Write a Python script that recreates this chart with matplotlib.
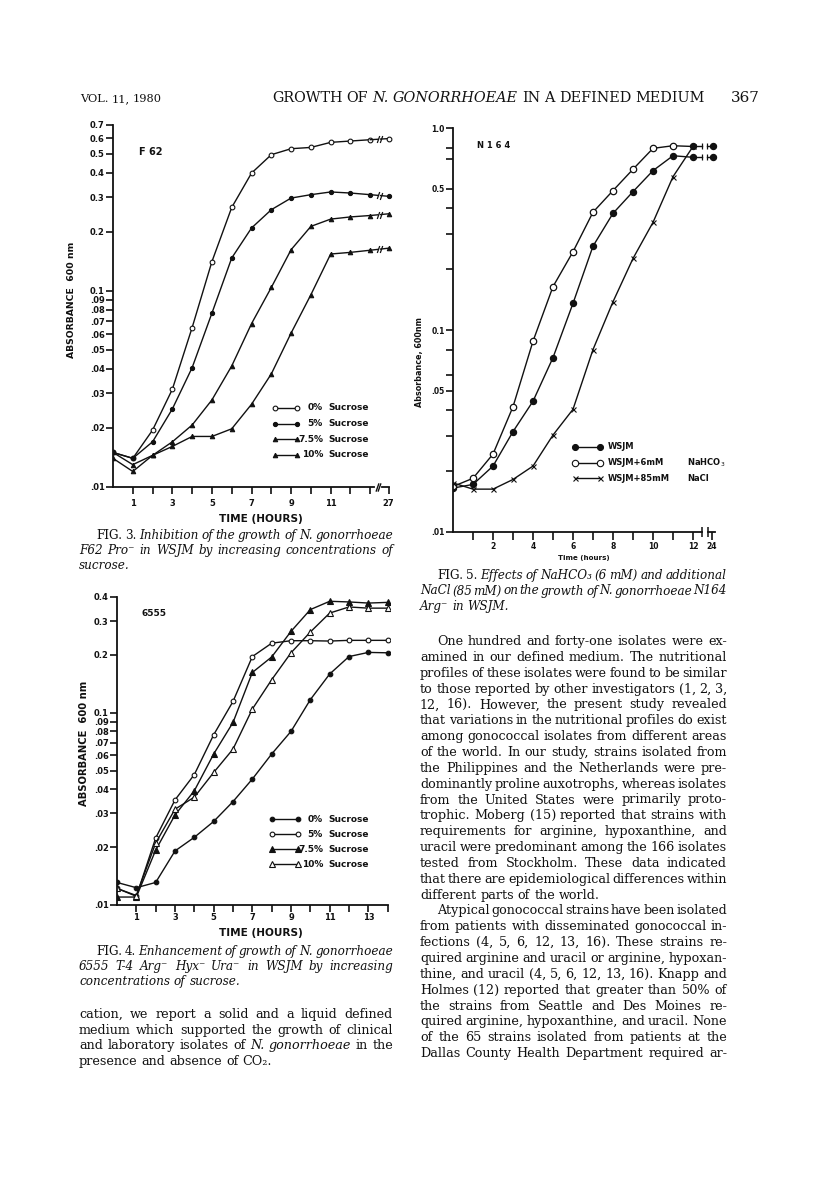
import matplotlib
matplotlib.use("Agg")
import matplotlib.pyplot as plt
from matplotlib.lines import Line2D
from matplotlib.ticker import NullLocator

# ---- Fig. 3: F62, absorbance at 600 nm vs time (h), last point at 27 h
f3_hours = [0, 1, 2, 3, 4, 5, 6, 7, 8, 9, 10, 11, 12, 13, 27]
f3_suc0 = [0.015, 0.014, 0.0195, 0.0315, 0.065, 0.141, 0.266, 0.398, 0.494, 0.53, 0.538, 0.571, 0.58, 0.589, 0.597]
f3_suc5 = [0.015, 0.014, 0.017, 0.025, 0.0406, 0.077, 0.147, 0.209, 0.259, 0.297, 0.309, 0.319, 0.315, 0.309, 0.303]
f3_suc75 = [0.014, 0.012, 0.0145, 0.017, 0.0207, 0.0278, 0.0414, 0.068, 0.104, 0.162, 0.213, 0.232, 0.238, 0.242, 0.247]
f3_suc10 = [0.015, 0.013, 0.0145, 0.0161, 0.0181, 0.0181, 0.0198, 0.0264, 0.0377, 0.0609, 0.0955, 0.154, 0.157, 0.161, 0.165]
f3_yticks = [0.7, 0.6, 0.5, 0.4, 0.3, 0.2, 0.1, 0.09, 0.08, 0.07, 0.06, 0.05, 0.04, 0.03, 0.02, 0.01]
f3_ylabels = ["0.7", "0.6", "0.5", "0.4", "0.3", "0.2", "0.1", ".09", ".08", ".07", ".06", ".05", ".04", ".03", ".02", ".01"]

# ---- Fig. 4: 6555, hours 0..14
f4_hours = [0, 1, 2, 3, 4, 5, 6, 7, 8, 9, 10, 11, 12, 13, 14]
f4_suc0 = [0.0131, 0.0123, 0.0131, 0.0191, 0.0225, 0.0272, 0.0345, 0.0452, 0.061, 0.080, 0.117, 0.159, 0.196, 0.206, 0.205]
f4_suc5 = [0.0122, 0.0111, 0.0223, 0.0352, 0.0477, 0.0768, 0.1145, 0.196, 0.230, 0.237, 0.237, 0.236, 0.238, 0.238, 0.238]
f4_suc75 = [0.0110, 0.0110, 0.0193, 0.0294, 0.0393, 0.061, 0.089, 0.162, 0.195, 0.265, 0.344, 0.38, 0.377, 0.372, 0.375]
f4_suc10 = [0.0122, 0.0112, 0.021, 0.0315, 0.0364, 0.0489, 0.0647, 0.1045, 0.1485, 0.205, 0.263, 0.330, 0.355, 0.35, 0.35]
f4_yticks = [0.4, 0.3, 0.2, 0.1, 0.09, 0.08, 0.07, 0.06, 0.05, 0.04, 0.03, 0.02, 0.01]
f4_ylabels = ["0.4", "0.3", "0.2", "0.1", ".09", ".08", ".07", ".06", ".05", ".04", ".03", ".02", ".01"]

# ---- Fig. 5: N164, hours 0..12 and 24
f5_hours = [0, 1, 2, 3, 4, 5, 6, 7, 8, 9, 10, 11, 12, 24]
f5_wsjm = [0.0165, 0.0172, 0.0212, 0.0314, 0.0444, 0.073, 0.1355, 0.26, 0.378, 0.484, 0.615, 0.729, 0.716, 0.716]
f5_nahco3 = [0.0168, 0.01845, 0.0243, 0.0417, 0.088, 0.164, 0.244, 0.383, 0.49, 0.625, 0.793, 0.817, 0.81, 0.81]
f5_nacl_hours = [0, 1, 2, 3, 4, 5, 6, 7, 8, 9, 10, 11, 12]
f5_nacl = [0.0175, 0.0163, 0.0163, 0.0182, 0.0212, 0.0302, 0.0405, 0.08, 0.138, 0.226, 0.341, 0.574, 0.81]
f5_yticks = [1.0, 0.8, 0.7, 0.5, 0.4, 0.3, 0.2, 0.1, 0.08, 0.06, 0.05, 0.04, 0.03, 0.02, 0.01]
f5_ylabels = ["1.0", "", "", "0.5", "", "", "", "0.1", "", "", ".05", "", "", "", ".01"]

W, H = 816, 1196
INK = "#111111"
SANS = "DejaVu Sans"
SERIF = "DejaVu Serif"
LW = 1.0

fig = plt.figure(figsize=(W / 100, H / 100), dpi=100)
fig.patch.set_facecolor("white")
renderer = fig.canvas.get_renderer()


def box(x0, y0, x1, y1):
    return [x0 / W, 1 - y1 / H, (x1 - x0) / W, (y1 - y0) / H]


def put(x, y, s, **kw):
    kw.setdefault("color", INK)
    return fig.text(x / W, 1 - y / H, s, **kw)


def width_of(s, **kw):
    t = fig.text(0, 0, s, **kw)
    w = t.get_window_extent(renderer).width
    t.remove()
    return w


def fit(x0, x1, y, s, **kw):
    size = 10 * (x1 - x0) / width_of(s, fontsize=10, **kw)
    return put((x0 + x1) / 2, y, s, fontsize=size, ha="center", va="center", **kw)


def fit_vertical(x, y0, y1, s, **kw):
    size = 10 * (y1 - y0) / width_of(s, fontsize=10, **kw)
    return put(x, (y0 + y1) / 2, s, fontsize=size, rotation=90, ha="center", va="center", **kw)


def words_of(line, base):
    out = []
    for w in line.split():
        st = base
        if len(w) > 2 and w[0] == "*" and w[-1] == "*":
            w = w[1:-1]
            st = "normal" if base == "italic" else "italic"
        out.append((w, st))
    return out


def block_size(lines, width, base="normal", indent=0, min_space=0.12):
    best = 30
    for i, line in enumerate(lines):
        words = words_of(line, base)
        tot = sum(width_of(w, fontsize=10, family=SERIF, fontstyle=st) for w, st in words)
        tot += (len(words) - 1) * min_space * 10 * 100 / 72
        avail = width - (indent if i == 0 else 0)
        best = min(best, 10 * avail / tot)
    return best


def block(lines, x0, x1, y0, dy, size, base="normal", indent=0, ragged_last=True):
    space = 0.318 * size * 100 / 72
    for i, line in enumerate(lines):
        words = words_of(line, base)
        left = x0 + (indent if i == 0 else 0)
        ws = [width_of(w, fontsize=size, family=SERIF, fontstyle=st) for w, st in words]
        if (ragged_last and i == len(lines) - 1) or len(words) < 2:
            gap = space
        else:
            gap = (x1 - left - sum(ws)) / (len(words) - 1)
        x = left
        for (w, st), wd in zip(words, ws):
            put(x, y0 + i * dy, w, fontsize=size, family=SERIF, fontstyle=st, ha="left", va="baseline")
            x += wd + gap


def style_axes(ax, yticks, ylabels, ysize):
    for s in ["top", "right"]:
        ax.spines[s].set_visible(False)
    for s in ["left", "bottom"]:
        ax.spines[s].set_linewidth(1.3)
        ax.spines[s].set_color(INK)
    ax.set_yscale("log")
    ax.set_yticks(yticks)
    ax.set_yticklabels(ylabels, fontweight="bold", family=SANS, fontsize=ysize, color=INK)
    ax.yaxis.set_minor_locator(NullLocator())
    ax.tick_params(axis="y", direction="out", length=5, width=1.2, pad=1, colors=INK)
    ax.patch.set_alpha(0)


SLASH = [(-0.35, -1), (0.35, 1)]


def tail(ax, p0, v0, p1, v1, g0, g1, mark, ms):
    f = lambda p: v0 * (v1 / v0) ** ((p - p0) / (p1 - p0))
    ax.plot([p0, g0], [v0, f(g0)], color=INK, lw=LW)
    ax.plot([g1, p1], [f(g1), v1], color=INK, lw=LW)
    ax.plot([g0, g1], [f(g0), f(g1)], ls="none", marker=mark, ms=ms, mec=INK, mfc=INK, mew=0.9)


def legend_row(x0, x1, y, marker, mfc, ms):
    fig.add_artist(Line2D([x0 / W, x1 / W], [1 - y / H] * 2, transform=fig.transFigure,
                          color=INK, lw=LW, marker=marker, mfc=mfc, mec=INK, ms=ms, mew=0.8))


# ================= Fig. 3 =================
ax3 = fig.add_axes(box(113, 125, 394, 487))
ax3.set_xlim(0, 14.2)
ax3.set_ylim(0.01, 0.7)
style_axes(ax3, f3_yticks, f3_ylabels, 6)
pos3 = [h if h <= 13 else 13.95 for h in f3_hours]
f3_series = [(f3_suc0, "o", "white", 3.4), (f3_suc5, "o", INK, 3.0),
             (f3_suc75, "^", INK, 3.2), (f3_suc10, "^", INK, 3.2)]
for vals, m, mfc, ms in f3_series:
    ax3.plot(pos3[:14], vals[:14], color=INK, lw=LW, marker=m, mfc=mfc, mec=INK, ms=ms, mew=0.8)
    tail(ax3, pos3[13], vals[13], pos3[14], vals[14], 13.38, 13.52, SLASH, 5)
    ax3.plot(pos3[14:], vals[14:], ls="none", marker=m, mfc=mfc, mec=INK, ms=ms, mew=0.8)
ax3.set_xticks(list(range(1, 14)) + [13.93])
ax3.set_xticklabels(["1", "", "3", "", "5", "", "7", "", "9", "", "11", "", "", "27"],
                    fontweight="bold", family=SANS, fontsize=6, color=INK)
ax3.tick_params(axis="x", direction="out", length=5, width=1.2, pad=3.5, colors=INK)
ax3.spines["bottom"].set_bounds(0, 13.2)
xt3 = ax3.get_xaxis_transform()
ax3.plot([13.6, 13.95], [0, 0], transform=xt3, color=INK, lw=1.3, clip_on=False)
ax3.plot([13.33, 13.45], [0, 0], transform=xt3, ls="none", marker=SLASH, ms=6,
         mec=INK, mew=1.0, clip_on=False)

fit_vertical(72, 241, 358, "ABSORBANCE  600 nm", fontweight="bold", family=SANS)
fit(219, 303, 519, "TIME (HOURS)", fontweight="bold", family=SANS)
put(139, 152, "F 62", fontsize=7, fontweight="bold", family=SANS, va="center")
legend3 = [("0%", "o", "white", 3.4), ("5%", "o", INK, 3.0), ("7.5%", "^", INK, 3.2), ("10%", "^", INK, 3.2)]
for i, (lab, m, mfc, ms) in enumerate(legend3):
    y = 408 + i * 15.6
    legend_row(275, 297, y, m, mfc, ms)
    put(323, y, lab, fontsize=6.5, fontweight="bold", family=SANS, ha="right", va="center")
    put(328, y, "Sucrose", fontsize=6.5, fontweight="bold", family=SANS, ha="left", va="center")

# ================= Fig. 4 =================
ax4 = fig.add_axes(box(117, 597, 390, 905))
ax4.set_xlim(0, 14.12)
ax4.set_ylim(0.01, 0.4)
style_axes(ax4, f4_yticks, f4_ylabels, 6)
f4_series = [(f4_suc0, "o", INK, 3.3), (f4_suc5, "o", "white", 3.4),
             (f4_suc75, "^", INK, 4.4), (f4_suc10, "^", "white", 4.4)]
for vals, m, mfc, ms in f4_series:
    ax4.plot(f4_hours, vals, color=INK, lw=LW, marker=m, mfc=mfc, mec=INK, ms=ms, mew=0.8)
ax4.set_xticks(list(range(1, 15)))
ax4.set_xticklabels(["1", "", "3", "", "5", "", "7", "", "9", "", "11", "", "13", ""],
                    fontweight="bold", family=SANS, fontsize=6, color=INK)
ax4.tick_params(axis="x", direction="out", length=5, width=1.2, pad=1, colors=INK)
ax4.spines["bottom"].set_bounds(0, 14)

fit_vertical(84, 680, 806, "ABSORBANCE  600 nm", fontweight="bold", family=SANS)
fit(219, 303, 933, "TIME (HOURS)", fontweight="bold", family=SANS)
put(142, 613, "6555", fontsize=6.5, fontweight="bold", family=SANS, va="center")
legend4 = [("0%", "o", INK, 3.3), ("5%", "o", "white", 3.4), ("7.5%", "^", INK, 4.4), ("10%", "^", "white", 4.4)]
for i, (lab, m, mfc, ms) in enumerate(legend4):
    y = 819 + i * 15.1
    legend_row(272, 298, y, m, mfc, ms)
    put(323, y, lab, fontsize=6.5, fontweight="bold", family=SANS, ha="right", va="center")
    put(328, y, "Sucrose", fontsize=6.5, fontweight="bold", family=SANS, ha="left", va="center")

# ================= Fig. 5 =================
ax5 = fig.add_axes(box(453, 128, 720, 532))
ax5.set_xlim(0, 13.35)
ax5.set_ylim(0.01, 1.0)
style_axes(ax5, f5_yticks, f5_ylabels, 5.5)
pos5 = [h if h <= 12 else 13.0 for h in f5_hours]
BAR = "|"
# WSJM
ax5.plot(pos5[:13], f5_wsjm[:13], color=INK, lw=LW, marker="o", mfc=INK, mec=INK, ms=4.3)
tail(ax5, pos5[12], f5_wsjm[12], pos5[13], f5_wsjm[13], 12.45, 12.72, BAR, 5)
ax5.plot(pos5[13:], f5_wsjm[13:], ls="none", marker="o", mfc=INK, mec=INK, ms=4.3)
# WSJM + NaHCO3
ax5.plot(pos5[:13], f5_nahco3[:13], color=INK, lw=LW)
ax5.plot(pos5[:12], f5_nahco3[:12], ls="none", marker="o", mfc="white", mec=INK, ms=4.6, mew=0.9)
tail(ax5, pos5[12], f5_nahco3[12], pos5[13], f5_nahco3[13], 12.45, 12.72, BAR, 5)
ax5.plot(pos5[12:], f5_nahco3[12:], ls="none", marker="o", mfc=INK, mec=INK, ms=4.3)
# WSJM + NaCl
ax5.plot(f5_nacl_hours, f5_nacl, color=INK, lw=LW, marker="x", ms=3.6, mew=0.8, mec=INK)

ax5.set_xticks(list(range(1, 13)) + [12.95])
ax5.set_xticklabels(["", "2", "", "4", "", "6", "", "8", "", "10", "", "12", "24"],
                    fontweight="bold", family=SANS, fontsize=5.5, color=INK)
ax5.tick_params(axis="x", direction="out", length=6, width=1.2, pad=1, colors=INK)
ax5.spines["bottom"].set_bounds(0, 12.45)
xt5 = ax5.get_xaxis_transform()
ax5.plot([12.75, 13.1], [0, 0], transform=xt5, color=INK, lw=1.3, clip_on=False)
ax5.plot([12.45, 12.75], [0, 0], transform=xt5, ls="none", marker="|", ms=7,
         mec=INK, mew=1.1, clip_on=False)

fit_vertical(420, 318, 407, "Absorbance, 600nm", fontweight="bold", family=SANS)
fit(558, 610, 558, "Time (hours)", fontweight="bold", family=SANS)
put(477, 145, "N 1 6 4", fontsize=6, fontweight="bold", family=SANS, va="center")
legend5 = [("o", INK, 4.3, "WSJM", ""), ("o", "white", 4.6, "WSJM+6mM", "NaHCO$_3$"),
           ("x", INK, 3.6, "WSJM+85mM", "NaCl")]
for i, (m, mfc, ms, lab, salt) in enumerate(legend5):
    y = 447 + i * 15.5
    legend_row(575, 600, y, m, mfc, ms)
    put(608, y, lab, fontsize=6, fontweight="bold", family=SANS, ha="left", va="center")
    if salt:
        put(687, y, salt, fontsize=6, fontweight="bold", family=SANS, ha="left", va="center")

# ================= page text =================
header = ["GROWTH OF *N.* *GONORRHOEAE* IN A DEFINED MEDIUM"]
hs = block_size(header, 705 - 272, min_space=0.3)
block(header, 272, 705, 102, 0, hs, ragged_last=False)
vol = ["VOL. 11, 1980"]
block(vol, 80, 162, 102, 0, block_size(vol, 82, min_space=0.3), ragged_last=False)
put(760, 102, "367", fontsize=hs * 1.05, family=SERIF, ha="right", va="baseline")

cap3 = ["*FIG.* *3.* Inhibition of the growth of N. gonorrhoeae",
        "F62 Pro\u207b in WSJM by increasing concentrations of",
        "sucrose."]
cap4 = ["*FIG.* *4.* Enhancement of growth of N. gonorrhoeae",
        "6555 T-4 Arg\u207b Hyx\u207b Ura\u207b in WSJM by increasing",
        "concentrations of sucrose."]
cap5 = ["*FIG.* *5.* Effects of NaHCO\u2083 (6 mM) and additional",
        "NaCl (85 mM) on the growth of N. gonorrhoeae N164",
        "Arg\u207b in WSJM."]
left_body = ["cation, we report a solid and a liquid defined",
             "medium which supported the growth of clinical",
             "and laboratory isolates of *N.* *gonorrhoeae* in the",
             "presence and absence of CO\u2082."]
para1 = ["One hundred and forty-one isolates were ex-",
         "amined in our defined medium. The nutritional",
         "profiles of these isolates were found to be similar",
         "to those reported by other investigators (1, 2, 3,",
         "12, 16). However, the present study revealed",
         "that variations in the nutritional profiles do exist",
         "among gonococcal isolates from different areas",
         "of the world. In our study, strains isolated from",
         "the Philippines and the Netherlands were pre-",
         "dominantly proline auxotrophs, whereas isolates",
         "from the United States were primarily proto-",
         "trophic. Moberg (15) reported that strains with",
         "requirements for arginine, hypoxanthine, and",
         "uracil were predominant among the 166 isolates",
         "tested from Stockholm. These data indicated",
         "that there are epidemiological differences within",
         "different parts of the world."]
para2 = ["Atypical gonococcal strains have been isolated",
         "from patients with disseminated gonococcal in-",
         "fections (4, 5, 6, 12, 13, 16). These strains re-",
         "quired arginine and uracil or arginine, hypoxan-",
         "thine, and uracil (4, 5, 6, 12, 13, 16). Knapp and",
         "Holmes (12) reported that greater than 50% of",
         "the strains from Seattle and Des Moines re-",
         "quired arginine, hypoxanthine, and uracil. None",
         "of the 65 strains isolated from patients at the",
         "Dallas County Health Department required ar-"]

LX0, LX1 = 79, 393
RX0, RX1 = 420, 727
IND = 17

body_size = min(block_size(left_body[:-1], LX1 - LX0),
                block_size(para1[:-1], RX1 - RX0, indent=IND),
                block_size(para2, RX1 - RX0, indent=IND))
cap_size = min(block_size(c[:-1], LX1 - LX0, base="italic", indent=IND) for c in (cap3, cap4))
cap_size = min(cap_size, block_size(cap5[:-1], RX1 - RX0, base="italic", indent=IND))

block(cap3, LX0, LX1, 539, 15, cap_size, base="italic", indent=IND)
block(cap4, LX0, LX1, 955, 15, cap_size, base="italic", indent=IND)
block(cap5, RX0, RX1, 579, 15.5, cap_size, base="italic", indent=IND)
block(left_body, LX0, LX1, 1018, 15.6, body_size)

DY = 15.85
block(para1, RX0, RX1, 645, DY, body_size, indent=IND)
block(para2, RX0, RX1, 645 + 17 * DY, DY, body_size, indent=IND, ragged_last=False)

fig.savefig("out.png", dpi=100, facecolor="white")
